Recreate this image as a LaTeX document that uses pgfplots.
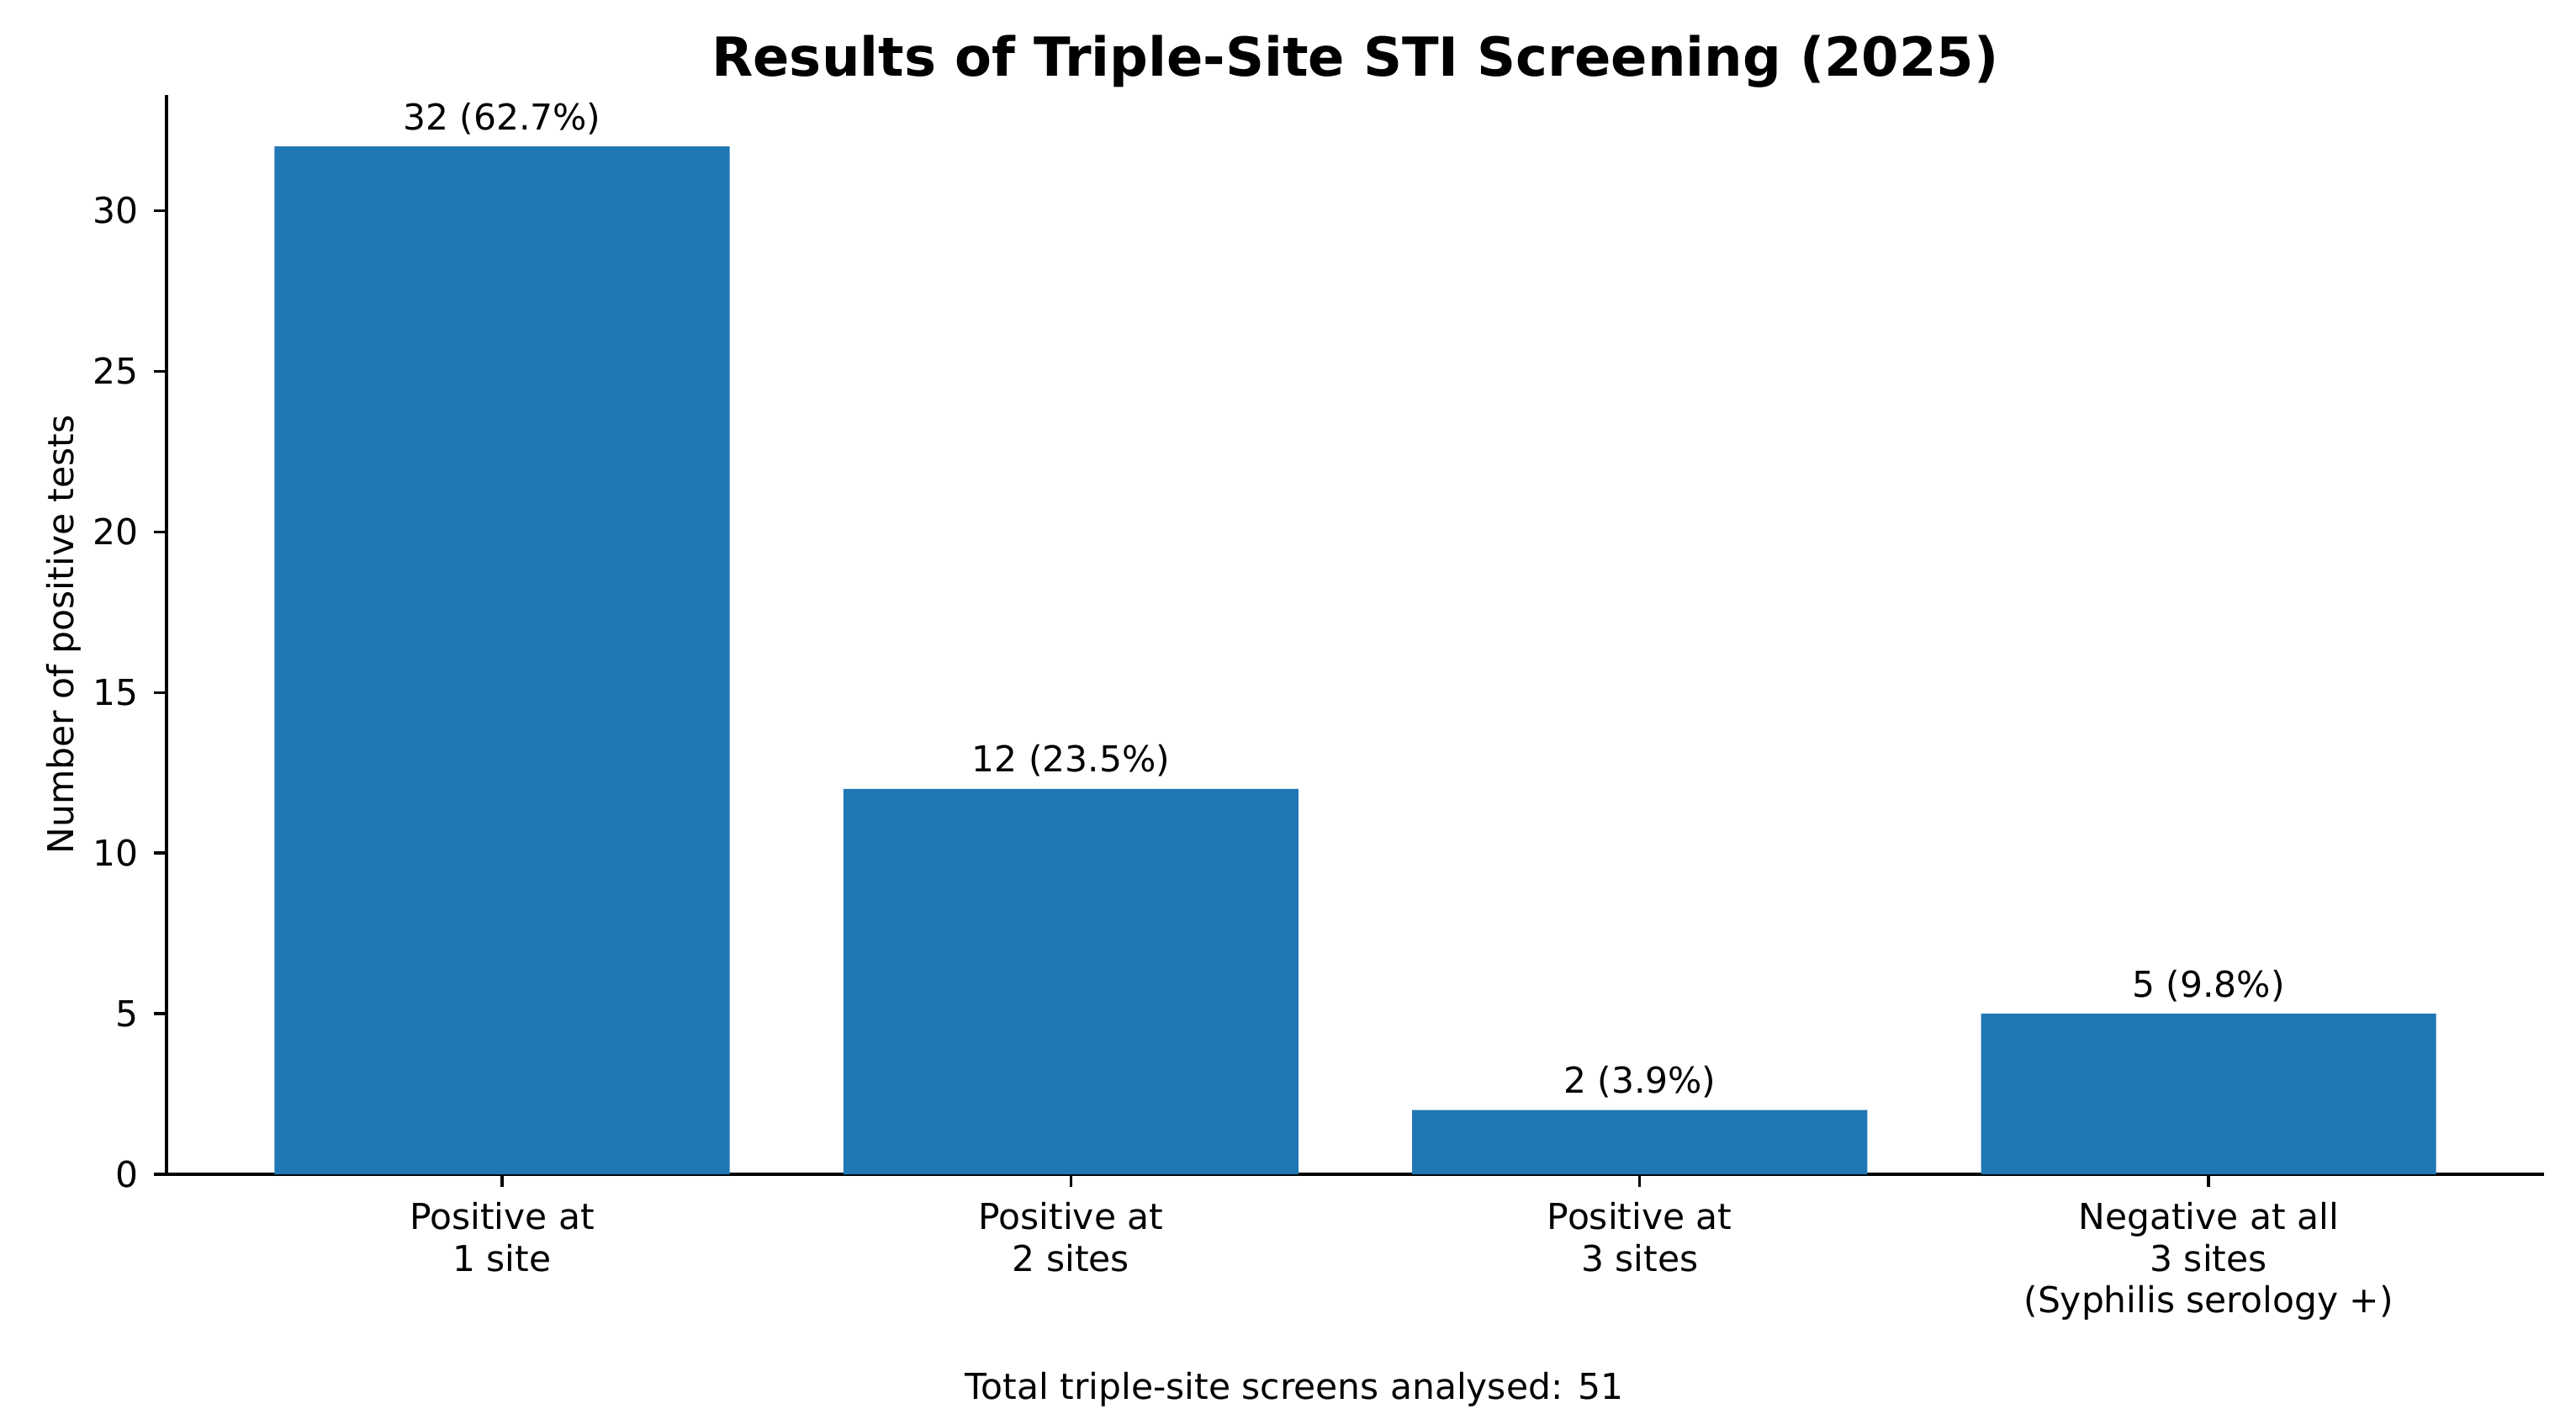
\documentclass[border=0pt]{standalone}
\usepackage{pgfplots}
\pgfplotsset{compat=1.18}
\usepackage{fontspec}
\setmainfont{DejaVu Sans}
\definecolor{mplblue}{HTML}{1F77B4}
\begin{document}
\begin{tikzpicture}
\useasboundingbox (-45.5pt,-65.5pt) rectangle (658.6pt,320.9pt);
\begin{axis}[
  at={(0pt,0pt)}, anchor=south west,
  scale only axis,
  width=649.9pt, height=294.9pt,
  xmin=-0.59, xmax=3.59,
  ymin=0, ymax=33.6,
  axis lines=left,
  axis line style={-, line width=0.8pt, black},
  tick align=outside,
  major tick length=3.5pt,
  tick style={line width=0.8pt, black},
  xtick={0,1,2,3},
  ytick={0,5,10,15,20,25,30},
  xticklabels={{Positive at\\1 site},{Positive at\\2 sites},{Positive at\\3 sites},{Negative at all\\3 sites\\(Syphilis serology +)}},
  xticklabel style={align=center, anchor=north, inner sep=0pt, yshift=-4pt, font=\fontsize{9.75}{11.4}\selectfont},
  yticklabel style={anchor=east, inner sep=0pt, xshift=-3.9pt, font=\fontsize{9.75}{12}\selectfont},
  /pgf/number format/assume math mode=true,
  ylabel={Number of positive tests},
  ylabel style={at={(axis description cs:-0.0389,0.5)}, anchor=base, font=\fontsize{9.75}{12}\selectfont},
  title={\bfseries Results of Triple-Site STI Screening (2025)},
  title style={at={(axis description cs:0.5,1)}, anchor=base, yshift=-0.9pt, inner sep=0pt, font=\fontsize{14.7}{17}\selectfont},
  nodes near coords,
  point meta=explicit symbolic,
  every node near coord/.append style={anchor=base, inner sep=0pt, yshift=4.6pt, font=\fontsize{9.75}{12}\selectfont, black},
  clip=false,
]
\addplot[ybar, bar width=0.8, fill=mplblue, draw=none] coordinates {
  (0,32) [32 (62.7\%)]
  (1,12) [12 (23.5\%)]
  (2,2) [2 (3.9\%)]
  (3,5) [5 (9.8\%)]
};
\node[anchor=base, inner sep=0pt, font=\fontsize{9.75}{12}\selectfont] at ([xshift=308.3pt, yshift=-61.4pt]rel axis cs:0,0) {Total triple-site screens analysed: 51};
\end{axis}
\end{tikzpicture}
\end{document}
